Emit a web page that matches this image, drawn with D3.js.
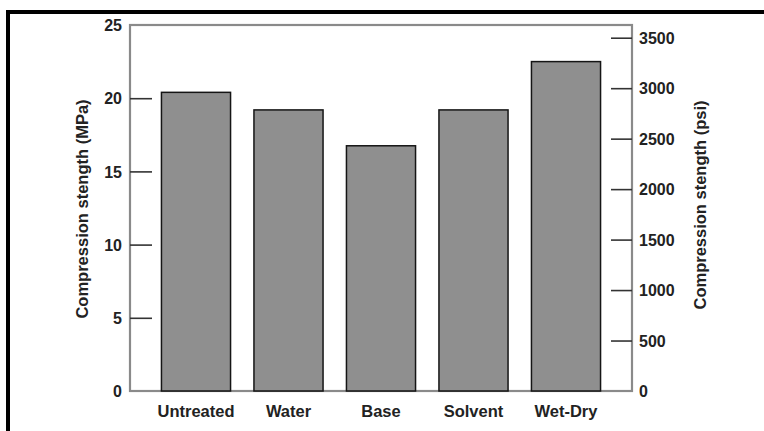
<!DOCTYPE html>
<html>
<head>
<meta charset="utf-8">
<script src="https://cdn.jsdelivr.net/npm/d3@7"></script>
<style>
  body { margin: 0; background: #fff; }
  svg { display: block; font-family: 'Liberation Sans', Arial, sans-serif; }
  .axis text { font-size: 16px; font-weight: bold; fill: #222; }
  .label { font-size: 16.5px; font-weight: bold; fill: #222; }
</style>
</head>
<body>
<svg id="chart" width="764" height="431"></svg>
<script>
const categories = ['Untreated', 'Water', 'Base', 'Solvent', 'Wet-Dry'];
const strengthMPa = [20.4, 19.2, 16.75, 19.2, 22.5];
const mpaTicks = [0, 5, 10, 15, 20, 25];
const psiTicks = [0, 500, 1000, 1500, 2000, 2500, 3000, 3500];
const psiPerMPa = 145.038;

const svg = d3.select('#chart');
const margin = { left: 130, right: 132, top: 25, bottom: 40 };
const width = 764;
const height = 431;
const x0 = margin.left;
const x1 = width - margin.right;
const y0 = height - margin.bottom;
const y1 = margin.top;

// outer frame (only top and left visible)
svg.append('line')
  .attr('x1', 6).attr('x2', width).attr('y1', 12).attr('y2', 12)
  .attr('stroke', '#000').attr('stroke-width', 4);
svg.append('line')
  .attr('x1', 8).attr('x2', 8).attr('y1', 10).attr('y2', height)
  .attr('stroke', '#000').attr('stroke-width', 4);

const x = d3.scaleBand().domain(categories).range([x0, x1])
  .paddingInner(0.253).paddingOuter(0.34);
const y = d3.scaleLinear().domain([0, 25]).range([y0, y1]);
const yPsi = d3.scaleLinear().domain([0, 25 * psiPerMPa]).range([y0, y1]);

// plot box
svg.append('rect')
  .attr('x', x0).attr('y', y1).attr('width', x1 - x0).attr('height', y0 - y1)
  .attr('fill', 'none').attr('stroke', '#8a8a8a').attr('stroke-width', 2.2);

svg.selectAll('.bar')
  .data(categories)
  .enter().append('rect')
  .attr('class', 'bar')
  .attr('x', d => x(d))
  .attr('width', x.bandwidth())
  .attr('y', (d, i) => y(strengthMPa[i]))
  .attr('height', (d, i) => y0 - y(strengthMPa[i]))
  .attr('fill', '#8f8f8f')
  .attr('stroke', '#151515')
  .attr('stroke-width', 1.5);

const leftAxis = svg.append('g')
  .attr('class', 'axis')
  .attr('transform', `translate(${x0},0)`)
  .call(d3.axisLeft(y).tickValues(mpaTicks).tickSizeInner(-22).tickSizeOuter(0).tickPadding(8));

const rightAxis = svg.append('g')
  .attr('class', 'axis')
  .attr('transform', `translate(${x1},0)`)
  .call(d3.axisRight(yPsi).tickValues(psiTicks).tickFormat(d3.format('d'))
    .tickSizeInner(-21).tickSizeOuter(0).tickPadding(7));

[leftAxis, rightAxis].forEach((g) => {
  g.select('.domain').remove();
  g.selectAll('.tick line').attr('stroke', '#333').attr('stroke-width', 1.6);
  g.selectAll('.tick text').attr('dy', '0.36em');
});
leftAxis.selectAll('.tick').filter(d => d === 0 || d === 25).select('line').remove();
rightAxis.selectAll('.tick').filter(d => d === 0).select('line').remove();

svg.append('g')
  .selectAll('text')
  .data(categories)
  .enter().append('text')
  .attr('class', 'label')
  .attr('x', d => x(d) + x.bandwidth() / 2)
  .attr('y', 417)
  .attr('text-anchor', 'middle')
  .text(d => d);

svg.append('text')
  .attr('class', 'label')
  .attr('transform', 'translate(88,209) rotate(-90)')
  .attr('text-anchor', 'middle')
  .text('Compression stength (MPa)');

svg.append('text')
  .attr('class', 'label')
  .attr('transform', 'translate(706,205) rotate(-90)')
  .attr('text-anchor', 'middle')
  .text('Compression stength (psi)');
</script>
</body>
</html>
